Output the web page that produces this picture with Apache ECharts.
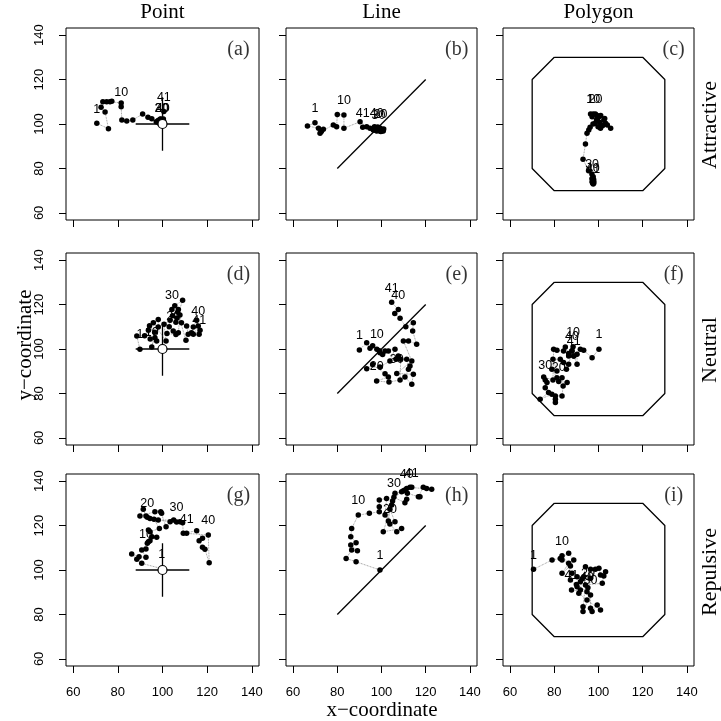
<!DOCTYPE html>
<html>
<head>
<meta charset="utf-8">
<script src="https://cdn.jsdelivr.net/npm/echarts@6/dist/echarts.min.js"></script>
<style>
  html, body { margin: 0; padding: 0; background: #fff; }
  #chart { width: 721px; height: 721px; }
</style>
</head>
<body>
<div id="chart"></div>
<script>
// Panel headings
const colTitles = ['Point', 'Line', 'Polygon'];
const rowTitles = ['Attractive', 'Neutral', 'Repulsive'];
const panelTags = ['(a)', '(b)', '(c)', '(d)', '(e)', '(f)', '(g)', '(h)', '(i)'];
const tickValues = [60, 80, 100, 120, 140];
const labelledSteps = [1, 10, 20, 30, 40, 41];
const tagPosition = [134, 133.5];

// Landmarks: point with cross, straight line, octagonal polygon
const crossH = [[88, 100], [112, 100]];
const crossV = [[100, 88], [100, 112]];
const refPoint = [[100, 100]];
const lineSeg = [[80, 80], [120, 120]];
const polygon = [[80, 130], [120, 130], [130, 120], [130, 80], [120, 70], [80, 70], [70, 80], [70, 120], [80, 130]];

// Movement tracks (41 steps each)
const trackA = [[70.6,100.3],[75.8,97.9],[74.3,105.4],[72.5,107.5],[73.3,110],[75,110],[76.5,110],[77.3,110.2],[81.5,109.5],[81.5,107.8],
  [81.8,101.8],[84,101.3],[86.7,101.8],[91.1,104.5],[93.5,103],[95.2,102.4],[97.2,101],[98,101.6],[99.2,101],[99.5,100.6],
  [100,100.8],[99,101.2],[98.3,100.6],[99.5,102],[100.2,101.2],[98.8,100.2],[99.6,100.9],[100.4,102.2],[99.1,101.7],[99.8,100.7],
  [98.6,101.4],[100.1,101.9],[99.3,100.4],[100.6,101],[98.9,102.1],[99.7,101.3],[100.3,100.5],[99.2,102.3],[99.9,101.1],[100.1,100.6],
  [100.6,105.6]];
const trackB = [[69.9,100.6],[66.5,99.1],[71.5,98.1],[72.2,95.8],[73.7,97.6],[72.8,96.6],[78.2,99.6],[79.7,98.8],[80,104.3],[83,104],
  [83,98.1],[90.3,101],[93.3,98.8],[94.8,98.1],[96.3,97.3],[97.8,97.6],[99.3,96.9],[100.8,96.9],[98.5,98],[99.5,97.8],
  [97.2,98.4],[98.8,97.2],[100.2,97.6],[96.8,98.8],[99.7,96.6],[98.1,97.9],[100.6,97.4],[97.5,97.1],[99.1,98.3],[98.6,97.3],
  [96.5,97.8],[100.1,96.8],[98.3,98.6],[99.6,97.1],[97.9,96.9],[101,97.7],[96.9,98.2],[99.4,97.9],[98,97.5],[97.8,98.1],
  [91.5,98.5]];
const trackC = [[96.4,104.5],[97.1,103.3],[99.1,101.8],[100.2,103.3],[102.4,101.8],[103.2,100.3],[105.5,98.1],[101.5,99.5],[100.9,98.1],[97.6,104.5],
  [99.5,102.5],[101,103.8],[102.8,102.5],[104,99.5],[100.5,100.8],[99.8,98.8],[101.8,99.2],[98.4,100.2],[99.4,103.8],[98.6,104.5],
  [97.5,100],[95.6,97.3],[96.2,98.5],[94.8,95.8],[94.1,91],[93,84.1],[95.5,79],[97,77.5],[97.6,76.3],[97.1,75.5],
  [97.4,74.5],[97.8,75],[97.3,73.8],[97.6,74.8],[97.1,74],[97.9,73.5],[97.2,75.2],[97.5,73.3],[97.8,74.2],[97.4,73.6],
  [97.6,73]];
const trackD = [[89.9,99.9],[88.5,105.8],[92,106],[93.7,108.4],[94.5,104.5],[96.6,105.1],[97.4,103.6],[94.2,110.5],[96.5,107.5],[95.2,100.9],
  [98.1,109.9],[98.1,113.3],[95.9,111.8],[101.6,103.6],[100.7,111.1],[103.4,112.9],[102,107],[106,106.5],[103,110],[104.8,108.1],
  [107.1,107.3],[107.8,115.3],[107.1,117.8],[108.5,111.8],[106,112],[104.5,115],[106.5,114],[109,121.9],[105.5,119.5],[104.2,117.8],
  [106.8,116.5],[110.5,103.9],[111.5,106.6],[110.8,110.3],[113,107.3],[113.8,109.9],[115.3,112.9],[116.8,108.4],[113.8,106.6],[116,110.3],
  [116.4,106.6]];
const trackE = [[90,99.6],[93.3,102.8],[94.8,100.3],[96,101.5],[99.3,98.3],[101.6,99.1],[103.1,99.1],[100.5,97.5],[99,99.2],[97.9,99.9],
  [106.1,99.9],[103.8,94.6],[106.6,95.4],[107.6,96.9],[99.3,91.9],[93.3,91.1],[96,93],[101.6,88.9],[103.1,87.4],[97.8,85.6],
  [103.4,85.1],[108.4,86.1],[108.7,95.4],[111.4,95.4],[112.2,90.9],[112.9,92.4],[110.6,87.4],[113.7,84.1],[114.4,88.6],[106.9,89],
  [113.7,94.6],[109.9,103.6],[112.2,103.6],[115.9,102.1],[114.1,108.1],[114.4,111.8],[111,110],[108.4,113.8],[106,116],[107.6,117.8],
  [104.6,121]];
const trackF = [[100.2,99.9],[97.1,96.1],[93.3,99.4],[91.8,99.9],[90.3,97.6],[90.3,93.1],[88.8,96.9],[86.5,96.9],[88,99.1],[88.5,101],
  [86.5,93.1],[84.2,93.9],[85.5,90.9],[82.7,95.4],[79.4,95.4],[81.2,90.1],[78.9,90.9],[81.2,87.1],[83.5,87.1],[82,85.4],
  [85.8,84.9],[84,83.4],[83.5,78.9],[80.5,78.9],[80.5,75.9],[80.5,77.4],[78.9,79.6],[73.6,77.4],[77.4,80.4],[75.9,86.1],
  [75.9,82.6],[76.7,84.9],[75.2,87.4],[79.4,86],[79.7,99.9],[81.2,99.4],[84.2,99.1],[85,100.9],[86.5,98],[88,99.2],
  [88.8,96.9]];
const trackG = [[99.6,100.6],[90.7,103],[88.5,104.8],[86.2,107.2],[89.5,106],[92.6,105.7],[90.7,109],[93.2,112],[94.4,113.2],[92.6,109.5],
  [93.7,112.7],[95.2,115],[97.4,114.7],[94.4,117.2],[93.7,118],[98.6,118.7],[96.2,122.8],[94.4,123.2],[92.6,124.3],[93.2,123.7],
  [91.4,127.3],[89.9,124.3],[96.6,126.2],[99.2,126.2],[99.6,125.5],[101.6,119.5],[103.4,121.7],[98.1,122.5],[105,122.5],[106.3,121.6],
  [107.8,121.7],[109,121.3],[109.3,116.5],[115.3,117.7],[117.9,114.3],[116.4,113.2],[117.9,110.2],[119,109.3],[120.9,103.3],[120.5,115.7],
  [110.8,116.5]];
const trackH = [[99.3,100],[88.5,103.7],[84,105.2],[86.5,109],[89.1,108.7],[86.1,111.2],[88.5,112.3],[86.1,115],[86.5,118.7],[89.5,124.7],
  [94.5,125.5],[99,126.2],[99,128.5],[99,131.5],[102.3,132.2],[101.6,124.7],[103.1,122],[103.8,127.3],[106.1,121.7],[103.8,120.7],
  [106.9,117.2],[109.1,118.7],[100.8,117.2],[104.6,129.2],[105,131],[106.1,134.5],[109.1,135.2],[109.9,135.7],[110.6,136],[105.6,132.7],
  [110.6,130.3],[111.4,131.8],[111.7,134.5],[116.7,133],[117.4,133],[118.9,137.2],[120.4,136.7],[122.7,136.3],[112.9,137.2],[111.4,136.7],
  [113.7,137.2]];
const trackI = [[70.6,100.3],[79,104.5],[82.7,105.2],[83.5,104.5],[86.5,107.5],[88.8,104.5],[87.3,101.8],[83.5,98.5],[86.5,103],[83.5,106.4],
  [88,98.5],[87.3,95.5],[90.3,92.5],[91.8,94.7],[90.3,97],[93.3,97],[94.1,101.5],[96.4,100.3],[96.4,96.3],[95.2,92],
  [98.6,100.3],[100.2,100.8],[100.9,97.8],[103.2,99.2],[102.4,97.3],[101.7,94],[94.1,93.3],[93,83.5],[93,81.3],[96.4,88.8],
  [96.4,82.8],[97.1,81.3],[99.4,84.3],[100.9,82],[94.8,86.5],[91.1,89.5],[91.8,91],[92.5,96],[90,93.5],[94.8,90.2],
  [87.8,91]];

const tracks = [[trackA, trackB, trackC], [trackD, trackE, trackF], [trackG, trackH, trackI]];

// Layout of the 3x3 panel grid
const gridLeft = [66, 286, 503];
const gridWidth = [193, 191, 191];
const gridTop = [28, 253, 474];
const gridHeight = 192;
const AX_MIN = 56.8, AX_MAX = 143.2;

const SERIF = "'Liberation Serif', 'DejaVu Serif', serif";
const SANS = "'Liberation Sans', Arial, sans-serif";
const NARROW = "'Liberation Sans Narrow', 'Liberation Sans', sans-serif";

const grids = [], xAxes = [], yAxes = [], series = [];

for (let r = 0; r < 3; r++) {
  for (let c = 0; c < 3; c++) {
    const idx = r * 3 + c;
    grids.push({
      left: gridLeft[c], top: gridTop[r], width: gridWidth[c], height: gridHeight,
      show: true, borderColor: '#000', borderWidth: 1, backgroundColor: 'transparent'
    });
    xAxes.push({
      gridIndex: idx, type: 'value', min: AX_MIN, max: AX_MAX,
      axisLine: { show: false, onZero: false },
      splitLine: { show: false },
      axisTick: { show: true, inside: false, length: 7, customValues: tickValues, lineStyle: { color: '#000', width: 1 } },
      axisLabel: { show: r === 2, customValues: tickValues, margin: 20, fontFamily: NARROW, fontSize: 13, color: '#000' }
    });
    yAxes.push({
      gridIndex: idx, type: 'value', min: AX_MIN, max: AX_MAX,
      axisLine: { show: false, onZero: false },
      splitLine: { show: false },
      axisTick: { show: true, inside: false, length: 7, customValues: tickValues, lineStyle: { color: '#000', width: 1 } },
      axisLabel: { show: c === 0, customValues: tickValues, rotate: 90, margin: 20, fontFamily: NARROW, fontSize: 13, color: '#000' }
    });

    const axisRef = { xAxisIndex: idx, yAxisIndex: idx };
    const solid = { color: '#000', width: 1.3 };

    // Landmark for this column
    if (c === 0) {
      series.push(Object.assign({ type: 'line', data: crossH, symbol: 'none', lineStyle: solid, z: 4, silent: true }, axisRef));
      series.push(Object.assign({ type: 'line', data: crossV, symbol: 'none', lineStyle: solid, z: 4, silent: true }, axisRef));
      series.push(Object.assign({
        type: 'scatter', data: refPoint, symbol: 'circle', symbolSize: 9,
        itemStyle: { color: '#fff', borderColor: '#000', borderWidth: 1.2, opacity: 1 }, z: 6, silent: true
      }, axisRef));
    } else if (c === 1) {
      series.push(Object.assign({ type: 'line', data: lineSeg, symbol: 'none', lineStyle: solid, z: 4, silent: true }, axisRef));
    } else {
      series.push(Object.assign({ type: 'line', data: polygon, symbol: 'none', lineStyle: solid, z: 4, silent: true }, axisRef));
    }

    // Track with numbered steps
    const track = tracks[r][c];
    const data = track.map((p, i) => {
      const step = i + 1;
      if (labelledSteps.indexOf(step) >= 0) {
        return { value: p, label: { show: true, formatter: String(step) } };
      }
      return p;
    });
    series.push(Object.assign({
      type: 'line', data: data, symbol: 'circle', symbolSize: 5.5, showAllSymbol: true,
      itemStyle: { color: '#000' },
      lineStyle: { color: '#7a7a7a', width: 0.8, type: 'dotted' },
      label: { show: false, position: 'top', distance: 5, fontFamily: SANS, fontSize: 12.5, color: '#000' },
      labelLayout: { hideOverlap: false },
      z: 5, silent: true
    }, axisRef));

    // Panel tag in the upper-right corner
    series.push(Object.assign({
      type: 'scatter', data: [tagPosition], symbolSize: 1,
      itemStyle: { color: 'transparent' },
      label: { show: true, position: 'inside', formatter: panelTags[idx], fontFamily: SERIF, fontSize: 20, color: '#000' },
      z: 7, silent: true
    }, axisRef));
  }
}

// Headings and axis titles
const graphics = [];
colTitles.forEach((t, c) => {
  graphics.push({
    type: 'text', x: gridLeft[c] + gridWidth[c] / 2, y: 12,
    style: { text: t, font: '21px ' + SERIF, fill: '#000', textAlign: 'center', textVerticalAlign: 'middle' }
  });
});
const rowLabelY = [125, 350, 572];
rowTitles.forEach((t, r) => {
  graphics.push({
    type: 'text', x: 710, y: rowLabelY[r], rotation: Math.PI / 2,
    style: { text: t, font: '22px ' + SERIF, fill: '#000', textAlign: 'center', textVerticalAlign: 'middle' }
  });
});
graphics.push({
  type: 'text', x: 25, y: 345, rotation: Math.PI / 2,
  style: { text: 'y\u2212coordinate', font: '21px ' + SERIF, fill: '#000', textAlign: 'center', textVerticalAlign: 'middle' }
});
graphics.push({
  type: 'text', x: 382, y: 710,
  style: { text: 'x\u2212coordinate', font: '21px ' + SERIF, fill: '#000', textAlign: 'center', textVerticalAlign: 'middle' }
});

const chart = echarts.init(document.getElementById('chart'), null, { renderer: 'canvas' });
chart.setOption({
  animation: false,
  backgroundColor: '#fff',
  grid: grids,
  xAxis: xAxes,
  yAxis: yAxes,
  series: series,
  graphic: graphics
});
</script>
</body>
</html>
